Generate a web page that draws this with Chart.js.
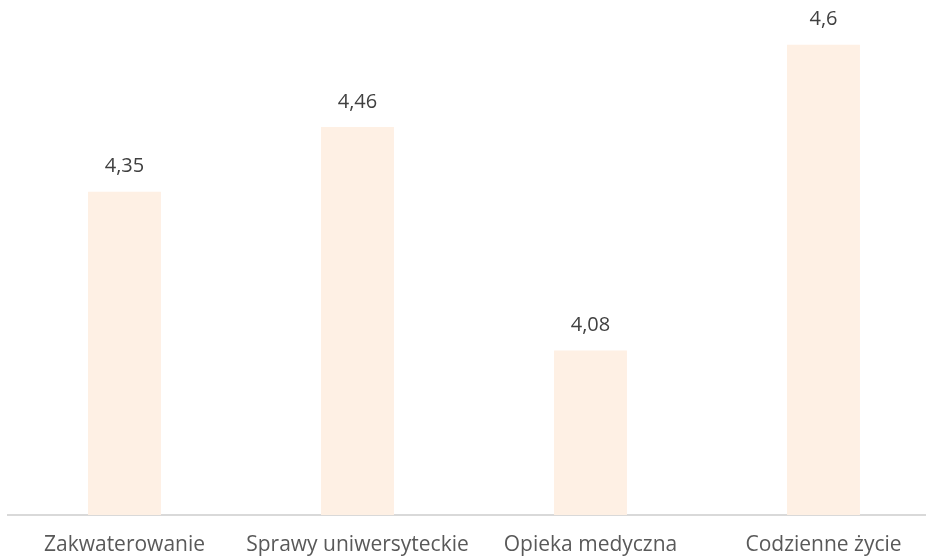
<!DOCTYPE html>
<html>
<head>
<meta charset="utf-8">
<script src="https://cdn.jsdelivr.net/npm/chart.js@4/dist/chart.umd.min.js"></script>
<style>
  html, body { margin: 0; padding: 0; background: #fff; overflow: hidden; }
  #wrap { position: absolute; left: 0; top: -14px; width: 940px; height: 573px; }
</style>
</head>
<body>
<div id="wrap"><canvas id="chart"></canvas></div>
<script>
const categories = ['Zakwaterowanie', 'Sprawy uniwersyteckie', 'Opieka medyczna', 'Codzienne życie'];
const scores = [4.35, 4.46, 4.08, 4.6];

const FONT = '"Open Sans", "Noto Sans", sans-serif';

// value labels above the bars, with a decimal comma
const barLabels = {
  id: 'barLabels',
  afterDatasetsDraw(chart) {
    const ctx = chart.ctx;
    const meta = chart.getDatasetMeta(0);
    ctx.save();
    ctx.font = '20px ' + FONT;
    ctx.fillStyle = '#404040';
    ctx.textAlign = 'center';
    ctx.textBaseline = 'middle';
    meta.data.forEach((bar, i) => {
      ctx.fillText(String(scores[i]).replace('.', ','), bar.x, bar.y - 25);
    });
    ctx.restore();
  }
};

new Chart(document.getElementById('chart'), {
  type: 'bar',
  data: {
    labels: categories,
    datasets: [{
      data: scores,
      backgroundColor: '#FEF0E4',
      borderWidth: 0,
      barPercentage: 0.313,
      categoryPercentage: 1
    }]
  },
  options: {
    responsive: true,
    maintainAspectRatio: false,
    animation: false,
    layout: { padding: { left: 8, right: 0, top: 0, bottom: 0 } },
    plugins: { legend: { display: false }, tooltip: { enabled: false } },
    scales: {
      x: {
        grid: { display: false, drawTicks: false },
        border: { display: true, color: '#D9D9D9', width: 2 },
        ticks: { color: '#595959', font: { family: FONT, size: 21 }, padding: 17, maxRotation: 0, autoSkip: false },
        afterFit(scale) { scale.height = 44; }
      },
      y: {
        display: false,
        min: 3.8,
        max: 4.7
      }
    }
  },
  plugins: [barLabels]
});
</script>
</body>
</html>
